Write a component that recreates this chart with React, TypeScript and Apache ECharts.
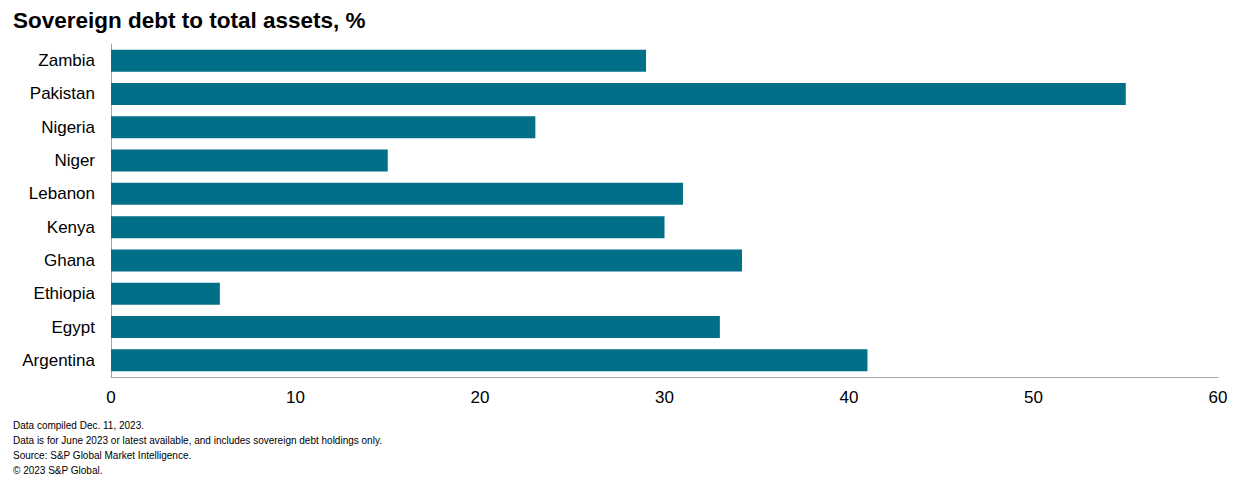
import React, { useEffect, useRef } from "react";
import * as echarts from "echarts";

const categories = ["Argentina", "Egypt", "Ethiopia", "Ghana", "Kenya", "Lebanon", "Niger", "Nigeria", "Pakistan", "Zambia"];
const values = [41, 33, 5.9, 34.2, 30, 31, 15, 23, 55, 29];
const title = "Sovereign debt to total assets, %";
const notes = [
  "Data compiled Dec. 11, 2023.",
  "Data is for June 2023 or latest available, and includes sovereign debt holdings only.",
  "Source: S&P Global Market Intelligence.",
  "\u00A9 2023 S&P Global.",
];

export default function App() {
  const ref = useRef<HTMLDivElement>(null);
  useEffect(() => {
    if (!ref.current) return;
    const chart = echarts.init(ref.current, null, { renderer: "svg" });
    const font = "'Liberation Sans', Arial, sans-serif";
    chart.setOption({
      animation: false,
      textStyle: { fontFamily: font },
      title: {
        text: title,
        left: 8,
        top: 4,
        textStyle: { fontSize: 22.5, fontWeight: "bold", color: "#000", fontFamily: font },
      },
      grid: { left: 111, right: 29, top: 44, bottom: 111, containLabel: false },
      xAxis: {
        type: "value",
        min: 0,
        max: 60,
        interval: 10,
        axisLine: { show: true, lineStyle: { color: "#a6a6a6", width: 1 } },
        axisTick: { show: false },
        splitLine: { show: false },
        axisLabel: { fontSize: 17, color: "#000", margin: 12, fontFamily: font },
      },
      yAxis: {
        type: "category",
        data: categories,
        axisLine: { show: true, lineStyle: { color: "#a6a6a6", width: 1 } },
        axisTick: { show: false },
        axisLabel: { fontSize: 17, color: "#000", margin: 16, fontFamily: font },
      },
      series: [
        {
          type: "bar",
          data: values,
          barCategoryGap: "34%",
          itemStyle: { color: "#006F87" },
        },
      ],
      graphic: notes.map((t, i) => ({
        type: "text",
        left: 13,
        top: 420 + i * 15,
        style: { text: t, fontSize: 10, fill: "#000", fontFamily: font },
      })),
    });
    return () => chart.dispose();
  }, []);
  return <div ref={ref} style={{ position: "fixed", left: 0, top: 0, width: 1247, height: 488, background: "#fff" }} />;
}
